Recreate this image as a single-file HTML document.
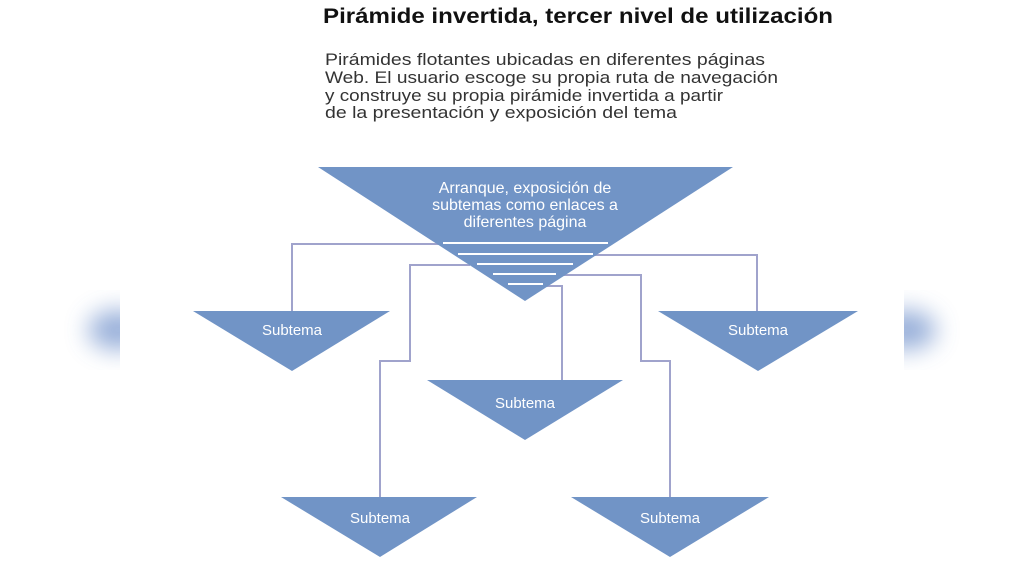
<!DOCTYPE html>
<html><head><meta charset="utf-8"><style>html,body{margin:0;padding:0;background:#fff}svg{display:block}</style></head>
<body>
<svg width="1024" height="576" viewBox="0 0 1024 576" xmlns="http://www.w3.org/2000/svg" font-family="Liberation Sans, sans-serif">
<defs><filter id="b" x="-50%" y="-50%" width="200%" height="200%"><feGaussianBlur stdDeviation="12"/></filter></defs>
<ellipse cx="118" cy="330" rx="30" ry="20" fill="#7f9cd0" opacity="0.8" filter="url(#b)"/>
<ellipse cx="906" cy="330" rx="30" ry="20" fill="#7f9cd0" opacity="0.8" filter="url(#b)"/>
<rect x="120" y="280" width="784" height="100" fill="#fff"/>
<text x="323" y="23" font-size="21" font-weight="bold" fill="#111" textLength="510" lengthAdjust="spacingAndGlyphs">Pirámide invertida, tercer nivel de utilización</text>
<g font-size="17" fill="#333">
<text x="325" y="65" textLength="440" lengthAdjust="spacingAndGlyphs">Pirámides flotantes ubicadas en diferentes páginas</text>
<text x="325" y="83" textLength="453" lengthAdjust="spacingAndGlyphs">Web. El usuario escoge su propia ruta de navegación</text>
<text x="325" y="101" textLength="398" lengthAdjust="spacingAndGlyphs">y construye su propia pirámide invertida a partir</text>
<text x="325" y="118" textLength="352" lengthAdjust="spacingAndGlyphs">de la presentación y exposición del tema</text>
</g>
<g fill="none" stroke="#a0a3cc" stroke-width="2">
<polyline points="440,244 292,244 292,311"/>
<polyline points="595,255 757,255 757,311"/>
<polyline points="470,265 410,265 410,361 380,361 380,497"/>
<polyline points="555,275 641,275 641,361 670,361 670,497"/>
<polyline points="540,286 562,286 562,380"/>
</g>
<g fill="#7194c6">
<polygon points="318,167 733,167 525,301"/>
<polygon points="193,311 390,311 292,371"/>
<polygon points="658,311 858,311 758,371"/>
<polygon points="427,380 623,380 525,440"/>
<polygon points="281,497 477,497 380,557"/>
<polygon points="571,497 769,497 670,557"/>
</g>
<g stroke="#fff" stroke-width="2">
<line x1="443" y1="243" x2="608" y2="243"/>
<line x1="458" y1="254" x2="593" y2="254"/>
<line x1="477" y1="264" x2="573" y2="264"/>
<line x1="493" y1="274" x2="556" y2="274"/>
<line x1="508" y1="284" x2="543" y2="284"/>
</g>
<g fill="#fff" text-anchor="middle">
<g font-size="16">
<text x="525" y="193">Arranque, exposición de</text>
<text x="525" y="210">subtemas como enlaces a</text>
<text x="525" y="227">diferentes página</text>
</g>
<g font-size="15">
<text x="292" y="335">Subtema</text>
<text x="758" y="335">Subtema</text>
<text x="525" y="408">Subtema</text>
<text x="380" y="523">Subtema</text>
<text x="670" y="523">Subtema</text>
</g>
</g>
</svg>
</body></html>
